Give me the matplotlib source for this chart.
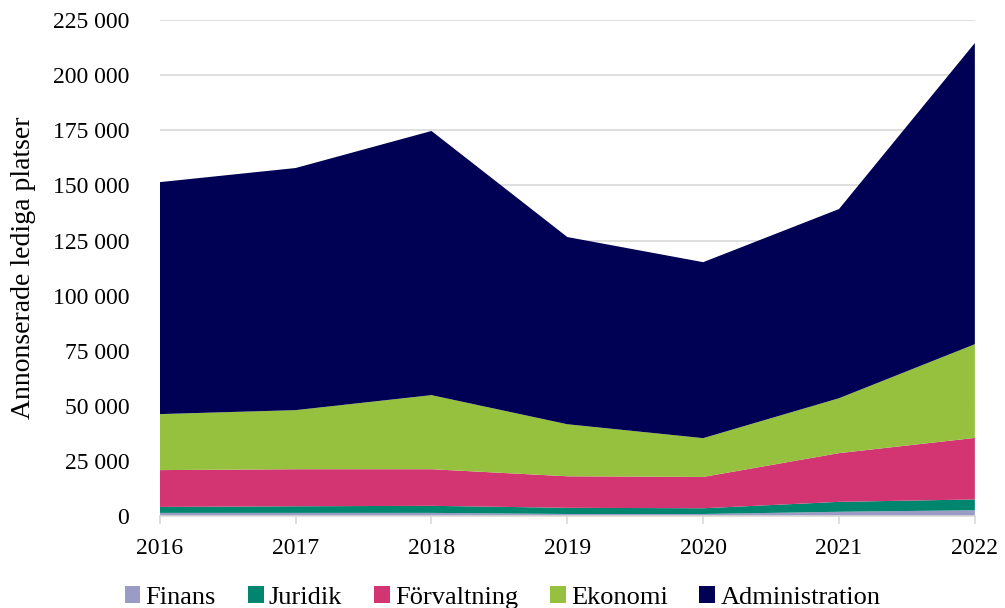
import matplotlib
matplotlib.use("Agg")
import matplotlib.pyplot as plt
from matplotlib.ticker import FuncFormatter, MultipleLocator
from matplotlib.patches import Patch

years = [2016, 2017, 2018, 2019, 2020, 2021, 2022]
finans = [1500, 1500, 1500, 1000, 1000, 2000, 2700]
juridik = [2700, 3000, 3200, 2800, 2600, 4500, 4900]
forvaltning = [16700, 16800, 16600, 14300, 14200, 22100, 27900]
ekonomi = [25400, 26800, 33600, 23600, 17600, 24900, 42500]
administration = [105200, 109800, 119800, 84900, 79800, 85800, 136600]

labels = ["Finans", "Juridik", "Förvaltning", "Ekonomi", "Administration"]
colors = ["#9a9cc6", "#00856f", "#d23572", "#96c13e", "#000055"]

plt.rcParams['font.family'] = ['Liberation Serif', 'DejaVu Serif']

fig = plt.figure(figsize=(10.05, 6.08), dpi=100)
ax = fig.add_axes([0.159, 0.151, 0.811, 0.816])

ax.stackplot(years, finans, juridik, forvaltning, ekonomi, administration,
             colors=colors, linewidth=0, zorder=2)

ax.set_xlim(years[0], years[-1])
ax.set_ylim(0, 225000)
ax.yaxis.set_major_locator(MultipleLocator(25000))
ax.yaxis.set_major_formatter(FuncFormatter(lambda v, p: f"{int(v):,}".replace(",", " ")))
ax.set_xticks(years)
ax.set_xticklabels([str(y) for y in years])

ax.grid(axis='y', color='#d9d9d9', linewidth=1.2, zorder=0)
ax.set_axisbelow(True)
for s in ['top', 'right', 'left']:
    ax.spines[s].set_visible(False)
ax.spines['bottom'].set_color('#d9d9d9')
ax.spines['bottom'].set_linewidth(1.2)
ax.tick_params(axis='y', length=0, pad=22, labelsize=17)
ax.tick_params(axis='x', length=6, color='#d9d9d9', width=1.2, pad=10, labelsize=17)

ax.set_ylabel("Annonserade lediga platser", fontsize=20, labelpad=12)

handles = [Patch(facecolor=c, edgecolor='none') for c in colors]
fig.legend(handles, labels, loc='lower center', bbox_to_anchor=(0.5, -0.04),
           ncol=5, frameon=False, fontsize=19, handlelength=0.6, handleheight=0.6,
           handletextpad=0.2, columnspacing=1.2)

fig.savefig("out.png", dpi=100)
